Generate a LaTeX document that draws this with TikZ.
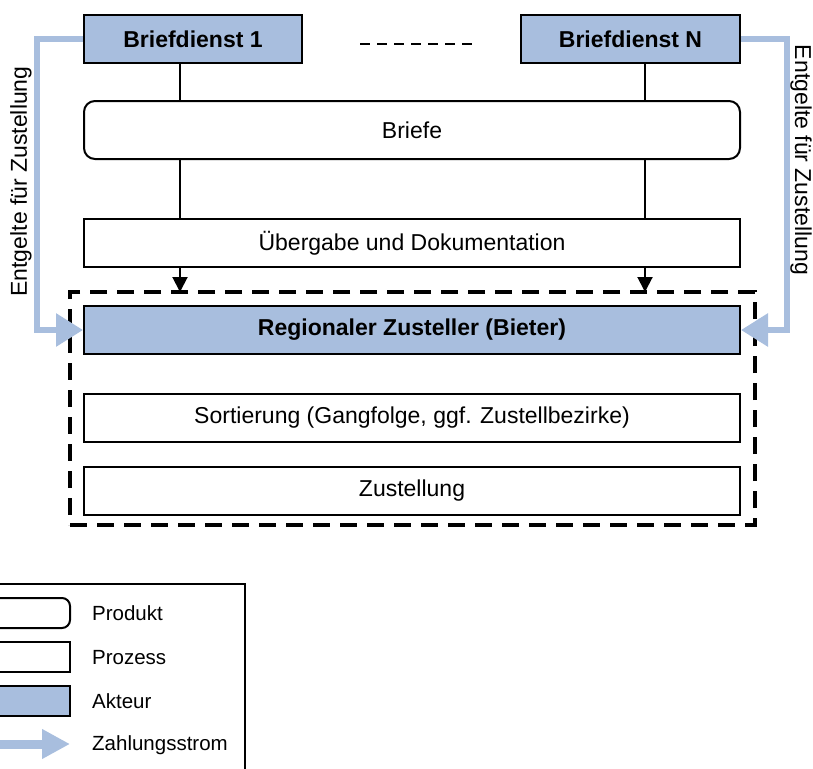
\documentclass[tikz,border=0pt]{standalone}
\usepackage{fontspec}
\setmainfont{Liberation Sans}
\usetikzlibrary{arrows.meta}
\definecolor{akteurblue}{RGB}{168,190,222}

\begin{document}
\begin{tikzpicture}[x=1pt, y=-1pt,
    box/.style={draw, line width=2pt, minimum height=48pt, inner sep=0pt, font=\fontsize{23}{27}\selectfont},
    wide/.style={box, minimum width=656pt},
    akteur/.style={box, fill=akteurblue, font=\fontsize{23}{27}\selectfont\bfseries},
    produkt/.style={box, rounded corners=11pt},
    flow/.style={line width=2pt, -{Triangle[length=15pt,width=15pt]}},
    pay/.style={draw=akteurblue, line width=6pt, -{Triangle[length=27pt,width=32pt]}},
    legtext/.style={anchor=west, inner sep=0pt, font=\fontsize{20.5}{24}\selectfont}]

    % constants
    \def\xl{180}
    \def\xr{645}
    \def\xm{412}

    \useasboundingbox (0,0) rectangle (813,768);
    \clip (0,0) rectangle (813,768);

    \coordinate (xl) at (\xl,0);
    \coordinate (xr) at (\xr,0);

    % actors on top
    \node [akteur, minimum width=218pt] (bda) at (193,39) {Briefdienst 1};
    \node [akteur, minimum width=219pt] (bdn) at (630.5,39) {Briefdienst N};
    \coordinate (dsa) at (360,44);
    \coordinate (dsb) at (476,44);
    \draw [line width=2pt, dash pattern=on 10pt off 7pt] (dsa) -- (dsb);

    % product and process
    \node [wide, produkt, minimum height=58pt] (briefe) at (\xm,130) {Briefe};
    \node [wide] (ueber) at (\xm,243) {Übergabe und Dokumentation};

    % regional carrier
    \node [draw, line width=4pt, dash pattern=on 17pt off 10pt, minimum width=685pt, minimum height=233pt, outer sep=0pt] (region) at (412.5,408.5) {};
    \node [akteur, minimum width=656pt] (rz) at (\xm,330) {Regionaler Zusteller (Bieter)};
    \node [wide] (sort) at (\xm,418) {Sortierung (Gangfolge, ggf. Zustellbezirke)};
    \node [wide] (zust) at (\xm,491) {Zustellung};

    \draw [line width=2pt] (bda.south -| xl) -- (briefe.north -| xl);
    \draw [line width=2pt] (bdn.south -| xr) -- (briefe.north -| xr);
    \draw [line width=2pt] (briefe.south -| xl) -- (ueber.north -| xl);
    \draw [line width=2pt] (briefe.south -| xr) -- (ueber.north -| xr);
    \draw [flow] (ueber.south -| xl) -- (region.north -| xl);
    \draw [flow] (ueber.south -| xr) -- (region.north -| xr);

    % payments
    \draw [pay] (bda.west) -- ++(-46,0) |- (rz.west);
    \draw [pay] (bdn.east) -- ++(46,0) |- (rz.east);
    \node [rotate=90, font=\fontsize{23}{27}\selectfont] (payl) at (21,181.5) {Entgelte für Zustellung};
    \node [rotate=-90, font=\fontsize{23}{27}\selectfont] (payr) at (801,160) {Entgelte für Zustellung};

    % legend
    \draw [line width=2pt] (-20,584) rectangle (245,790);
    \node [box, rounded corners=8pt, minimum width=90pt, minimum height=30pt] (lgprod) at (25,613) {};
    \node [box, minimum width=90pt, minimum height=30pt] (lgproz) at (25,657) {};
    \node [box, fill=akteurblue, minimum width=90pt, minimum height=30pt] (lgakt) at (25,701) {};
    \coordinate (lgza) at (-10,744);
    \coordinate (lgzb) at (70,744);
    \draw [draw=akteurblue, line width=9pt, -{Triangle[length=28pt,width=28pt]}] (lgza) -- (lgzb);
    \node [legtext] (tprod) at (92,613) {Produkt};
    \node [legtext] (tproz) at (92,658) {Prozess};
    \node [legtext] (takt) at (92,701) {Akteur};
    \node [legtext] (tzahl) at (92,745) {Zahlungsstrom};

\end{tikzpicture}
\end{document}
